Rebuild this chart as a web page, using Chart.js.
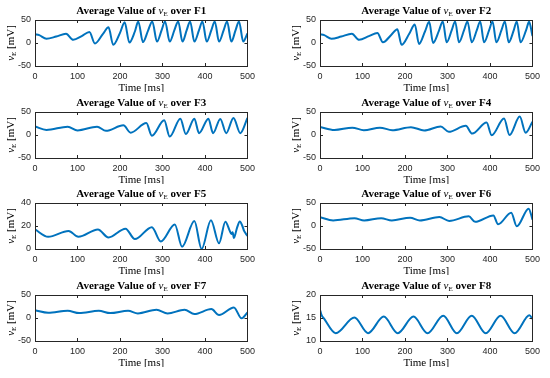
<!DOCTYPE html>
<html>
<head>
<meta charset="utf-8">
<script src="https://cdn.jsdelivr.net/npm/chart.js@4"></script>
<style>
  body { margin: 0; background: #fff; width: 550px; height: 378px; position: relative; overflow: hidden; }
  canvas { position: absolute; }
</style>
</head>
<body>
<canvas id="c1" width="260" height="92" style="left:0;top:0"></canvas>
<canvas id="c2" width="260" height="92" style="left:285px;top:0"></canvas>
<canvas id="c3" width="260" height="92" style="left:0;top:92px"></canvas>
<canvas id="c4" width="260" height="92" style="left:285px;top:92px"></canvas>
<canvas id="c5" width="260" height="92" style="left:0;top:183px"></canvas>
<canvas id="c6" width="260" height="92" style="left:285px;top:183px"></canvas>
<canvas id="c7" width="260" height="92" style="left:0;top:275px"></canvas>
<canvas id="c8" width="260" height="92" style="left:285px;top:275px"></canvas>
<script>
// time axis ticks (ms)
const xTicks = [0, 100, 200, 300, 400, 500]

// F1
const f1T = [0, 10, 27, 50, 73, 90, 110, 128, 141, 160, 173, 184, 200, 211, 222, 235, 243, 254, 266, 276, 287, 298, 306, 317, 328, 337, 347, 357, 365, 375, 386, 394, 404, 415, 423, 433, 444, 452, 462, 472, 480, 490, 500]
const f1V = [19, 17, 9, 14, 20, 7, 15, 24, -1, 20, 34, -4, 22, 45, 1, 25, 47, 2, 27, 47, 3, 28, 47, 3, 28, 47, 3, 28, 47, 3, 28, 47, 3, 28, 47, 3, 28, 47, 3, 28, 47, 3, 21]
// F2
const f2T = [0, 10, 27, 50, 75, 92, 115, 135, 148, 168, 182, 192, 210, 223, 233, 247, 257, 266, 280, 289, 298, 310, 318, 327, 339, 347, 357, 369, 377, 386, 398, 406, 415, 427, 435, 444, 456, 463, 472, 485, 492, 500]
const f2V = [19, 17, 9, 14, 20, 7, 15, 22, 1.5, 18, 30, -4, 20, 40, -2, 25, 46, 0, 27, 47, 1.5, 28, 47, 1.5, 28, 47, 1.5, 28, 47, 1.5, 28, 47, 1.5, 28, 47, 1.5, 28, 47, 1.5, 28, 46, 15]
// F3
const f3T = [0, 27, 77, 100, 146, 167, 208, 225, 262, 275, 304, 317, 342, 355, 375, 386, 408, 419, 436, 450, 467, 483, 500]
const f3V = [18.5, 11, 18, 10, 18, 9, 21, 5, 26, -1.5, 32, -3.5, 35.5, 2, 35.5, 4, 35.5, 4, 35, 4, 37, 4, 37]
// F4
const f4T = [0, 34, 76, 103, 141, 170, 214, 245, 284, 303, 343, 358, 392, 404, 433, 446, 470, 484, 500]
const f4V = [17.5, 11, 16, 10.5, 16, 10.5, 17, 10, 18.5, 7, 20, 3, 27, -0.5, 36, 0, 40, 5, 29]
// F5
const f5T = [0, 31, 79, 102, 148, 173, 213, 235, 275, 296, 329, 346, 375, 392, 414, 433, 448, 458, 462, 465, 468, 475, 482, 488, 492, 496, 500]
const f5V = [17, 10.6, 15.7, 10.6, 17, 10, 17.7, 8.6, 19, 6.6, 21.4, 2, 24.3, 0, 25, 5, 23.7, 16, 13, 14.5, 9.5, 18, 24, 20, 15.7, 13.4, 11.4]
// F6
const f6T = [0, 31, 81, 104, 144, 169, 212, 235, 281, 304, 350, 365, 408, 419, 450, 463, 491, 500]
const f6V = [19, 12, 17, 12, 17, 12, 18, 12, 19.5, 11, 21, 9, 23, 3.6, 29, -0.7, 37.7, 14]
// F7
const f7T = [0, 31, 77, 104, 150, 177, 219, 242, 286, 312, 352, 375, 415, 433, 468, 486, 500]
const f7V = [17, 11.4, 15.7, 10.7, 15.7, 10.7, 15.7, 10, 17.9, 10, 17.9, 8.6, 19.3, 6.4, 22.9, -0.7, 12]
// F8
const f8T = [0, 3, 10, 37, 81, 113, 150, 183, 220, 253, 290, 322, 357, 390, 425, 458, 493, 500]
const f8V = [16.8, 15.8, 14.8, 11.7, 15.1, 11.7, 15.3, 11.7, 15.3, 11.7, 15.5, 11.7, 15.5, 11.7, 15.5, 11.7, 15.6, 14.8]

const panels = [
  { id: 'c1', name: 'F1', t: f1T, v: f1V, yTicks: [-50, 0, 50] },
  { id: 'c2', name: 'F2', t: f2T, v: f2V, yTicks: [-50, 0, 50] },
  { id: 'c3', name: 'F3', t: f3T, v: f3V, yTicks: [-50, 0, 50] },
  { id: 'c4', name: 'F4', t: f4T, v: f4V, yTicks: [-50, 0, 50] },
  { id: 'c5', name: 'F5', t: f5T, v: f5V, yTicks: [0, 20, 40] },
  { id: 'c6', name: 'F6', t: f6T, v: f6V, yTicks: [-50, 0, 50] },
  { id: 'c7', name: 'F7', t: f7T, v: f7V, yTicks: [-50, 0, 50] },
  { id: 'c8', name: 'F8', t: f8T, v: f8V, yTicks: [10, 15, 20] }
]

const serif = '"Liberation Serif", "Times New Roman", serif'
const tickFont = { family: '"Liberation Sans", Arial, sans-serif', size: 9 }
const axisGray = '#262626'

// draw a line of mixed text pieces centred on (cx, cy)
function richText(ctx, parts, cx, cy) {
  let w = 0
  parts.forEach(p => { ctx.font = p.f; p.w = ctx.measureText(p.t).width; w += p.w })
  let x = cx - w / 2
  ctx.textBaseline = 'middle'
  ctx.textAlign = 'left'
  parts.forEach(p => {
    ctx.font = p.f
    ctx.fillText(p.t, x, cy + (p.dy || 0))
    x += p.w
  })
}

const matlabBox = {
  id: 'matlabBox',
  afterDraw(chart) {
    const ctx = chart.ctx
    const a = chart.chartArea
    const xs = chart.scales.x, ys = chart.scales.y
    ctx.save()
    // box + inward ticks
    ctx.strokeStyle = axisGray
    ctx.lineWidth = 1
    ctx.strokeRect(Math.round(a.left) + 0.5, Math.round(a.top) + 0.5, Math.round(a.right - a.left), Math.round(a.bottom - a.top))
    ctx.beginPath()
    xs.ticks.forEach(tk => {
      const px = Math.round(xs.getPixelForValue(tk.value)) + 0.5
      ctx.moveTo(px, a.bottom); ctx.lineTo(px, a.bottom - 3)
      ctx.moveTo(px, a.top); ctx.lineTo(px, a.top + 3)
    })
    ys.ticks.forEach(tk => {
      const py = Math.round(ys.getPixelForValue(tk.value)) + 0.5
      ctx.moveTo(a.left, py); ctx.lineTo(a.left + 3, py)
      ctx.moveTo(a.right, py); ctx.lineTo(a.right - 3, py)
    })
    ctx.stroke()

    ctx.fillStyle = '#000'
    const name = chart.options.plugins.matlabBox.name
    const midX = (a.left + a.right) / 2
    // title
    richText(ctx, [
      { t: 'Average Value of ', f: 'bold 11px ' + serif },
      { t: 'v', f: 'italic 11px ' + serif },
      { t: 'E', f: '7px ' + serif, dy: 3 },
      { t: ' over ' + name, f: 'bold 11px ' + serif }
    ], midX, a.top - 9)
    // x label
    richText(ctx, [{ t: 'Time [ms]', f: '11px ' + serif }], midX, a.bottom + 22)
    // y label
    ctx.translate(11, (a.top + a.bottom) / 2)
    ctx.rotate(-Math.PI / 2)
    richText(ctx, [
      { t: 'v', f: 'italic 11px ' + serif },
      { t: 'E', f: '7px ' + serif, dy: 3 },
      { t: ' [mV]', f: '11px ' + serif }
    ], 0, 0)
    ctx.restore()
  }
}

panels.forEach(p => {
  const yMin = p.yTicks[0], yMax = p.yTicks[p.yTicks.length - 1]
  new Chart(document.getElementById(p.id), {
    type: 'line',
    data: {
      datasets: [{
        data: p.t.map((t, i) => ({ x: t, y: p.v[i] })),
        borderColor: '#0072BD',
        borderWidth: 2,
        pointRadius: 0,
        cubicInterpolationMode: 'monotone',
        fill: false
      }]
    },
    options: {
      responsive: false,
      devicePixelRatio: 1,
      animation: false,
      layout: { padding: { top: 20, right: 7, left: 0, bottom: 0 } },
      plugins: { legend: { display: false }, tooltip: { enabled: false }, matlabBox: { name: p.name } },
      scales: {
        x: {
          type: 'linear', min: xTicks[0], max: xTicks[xTicks.length - 1],
          afterBuildTicks: s => { s.ticks = xTicks.map(v => ({ value: v })) },
          afterFit: s => { s.height = 26 },
          grid: { display: false, drawTicks: false }, border: { display: false },
          ticks: { font: tickFont, color: axisGray, padding: 5, maxRotation: 0 }
        },
        y: {
          min: yMin, max: yMax,
          afterBuildTicks: s => { s.ticks = p.yTicks.map(v => ({ value: v })) },
          afterFit: s => { s.width = 35 },
          grid: { display: false, drawTicks: false }, border: { display: false },
          ticks: { font: tickFont, color: axisGray, padding: 4 }
        }
      }
    },
    plugins: [matlabBox]
  })
})
</script>
</body>
</html>
